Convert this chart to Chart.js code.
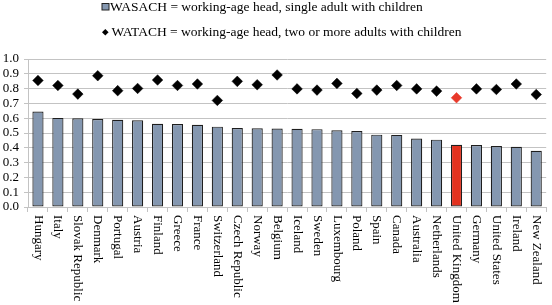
<!DOCTYPE html>
<html>
<head>
<meta charset="utf-8">
<script src="https://cdn.jsdelivr.net/npm/chart.js@4/dist/chart.umd.min.js"></script>
<style>
  html, body { margin: 0; padding: 0; background: #ffffff; }
  #wrap { position: relative; width: 552px; height: 305px; }
</style>
</head>
<body>
<div id="wrap"><canvas id="c"></canvas></div>
<script>
// ---- data ----
const categories = ['Hungary','Italy','Slovak Republic','Denmark','Portugal','Austria','Finland','Greece','France','Switzerland','Czech Republic','Norway','Belgium','Iceland','Sweden','Luxembourg','Poland','Spain','Canada','Australia','Netherlands','United Kingdom','Germany','United States','Ireland','New Zealand'];
const wasach = [0.645,0.602,0.600,0.595,0.589,0.586,0.563,0.561,0.555,0.543,0.534,0.532,0.530,0.528,0.526,0.518,0.514,0.489,0.487,0.462,0.455,0.421,0.419,0.412,0.407,0.380];
const watach = [0.855,0.821,0.763,0.887,0.786,0.801,0.858,0.821,0.831,0.720,0.849,0.826,0.892,0.798,0.790,0.835,0.767,0.790,0.821,0.798,0.783,0.738,0.798,0.794,0.831,0.760];
const seriesLabels = ['WASACH = working-age head, single adult with children', 'WATACH = working-age head, two or more adults with children'];
const yTicks = [0,0.1,0.2,0.3,0.4,0.5,0.6,0.7,0.8,0.9,1.0];
const highlighted = 'United Kingdom';

// ---- styling ----
const FONT = '"Liberation Serif", "Times New Roman", serif';
const BAR_COLOR = '#8497b0';
const BAR_HL = '#e2321f';
const DIA_COLOR = '#000000';
const DIA_HL = '#e8392a';
const GRID = '#c3c3c3';

const barColors = categories.map(c => c === highlighted ? BAR_HL : BAR_COLOR);
const diaColors = categories.map(c => c === highlighted ? DIA_HL : DIA_COLOR);

const labelPlugin = {
  id: 'rotLabels',
  afterDraw(chart) {
    const ctx = chart.ctx;
    const xs = chart.scales.x;
    ctx.save();
    ctx.font = '13px ' + FONT;
    ctx.fillStyle = '#000';
    ctx.textAlign = 'left';
    ctx.textBaseline = 'middle';
    categories.forEach((c, i) => {
      const x = xs.getPixelForValue(i);
      ctx.save();
      ctx.translate(x, xs.top + 8);
      ctx.rotate(Math.PI / 2);
      ctx.fillText(c, 0, 0);
      ctx.restore();
    });
    // legend
    ctx.font = '13.5px ' + FONT;
    ctx.textBaseline = 'alphabetic';
    ctx.fillStyle = BAR_COLOR;
    ctx.fillRect(102, 3.5, 7, 6.5);
    ctx.strokeStyle = '#222';
    ctx.lineWidth = 1;
    ctx.strokeRect(102, 3.5, 7, 6.5);
    ctx.fillStyle = '#000';
    ctx.fillText(seriesLabels[0], 110, 11);
    ctx.beginPath();
    ctx.moveTo(105.3, 29);
    ctx.lineTo(108.6, 32.3);
    ctx.lineTo(105.3, 35.6);
    ctx.lineTo(102, 32.3);
    ctx.closePath();
    ctx.fill();
    ctx.fillText(seriesLabels[1], 111.5, 36);
    ctx.restore();
  }
};

new Chart(document.getElementById('c'), {
  data: {
    labels: categories,
    datasets: [
      {
        type: 'line',
        label: seriesLabels[1],
        data: watach,
        showLine: false,
        pointStyle: 'rectRot',
        pointRadius: 5.3,
        pointHoverRadius: 5.3,
        pointBackgroundColor: diaColors,
        pointBorderColor: diaColors,
        pointBorderWidth: 0.5,
        order: 0
      },
      {
        type: 'bar',
        label: seriesLabels[0],
        data: wasach,
        backgroundColor: barColors,
        borderColor: '#1e1e1e',
        borderWidth: 1.2,
        borderSkipped: false,
        barPercentage: 0.56,
        categoryPercentage: 1,
        order: 1
      }
    ]
  },
  options: {
    responsive: true,
    maintainAspectRatio: false,
    animation: false,
    devicePixelRatio: 1,
    layout: { padding: { top: 59, right: 2, left: 0, bottom: 0 } },
    plugins: {
      legend: { display: false },
      tooltip: { enabled: false }
    },
    scales: {
      x: {
        type: 'category',
        offset: true,
        grid: {
          offset: true,
          drawOnChartArea: false,
          drawTicks: true,
          tickLength: 5,
          color: GRID
        },
        border: { display: true, color: GRID, width: 1 },
        ticks: { display: false },
        afterFit(s) { s.height = 98; }
      },
      y: {
        min: 0,
        max: 1,
        afterBuildTicks(s) { s.ticks = yTicks.map(v => ({ value: v })); },
        grid: { color: GRID, tickLength: 4, drawTicks: true },
        border: { display: true, color: GRID, width: 1 },
        ticks: {
          color: '#000',
          padding: 5,
          autoSkip: false,
          font: { family: FONT, size: 13 },
          callback: v => Number(v).toFixed(1)
        },
        afterFit(s) { s.width = 28; }
      }
    }
  },
  plugins: [labelPlugin]
});
</script>
</body>
</html>
